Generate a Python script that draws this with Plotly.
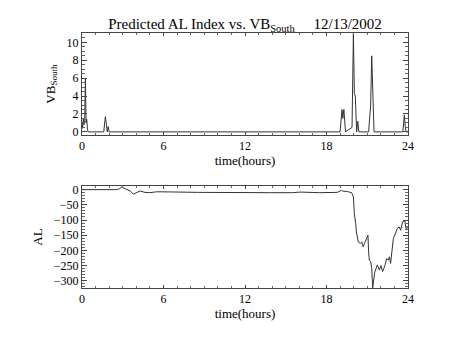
import plotly.graph_objects as go

# VB_South (top panel)
vb_time = [0.0, 0.05, 0.1, 0.15, 0.2, 0.25, 0.3, 0.35, 0.4, 0.45,
           1.6, 1.72, 1.8, 1.86, 1.93, 2.0,
           19.0, 19.14, 19.2, 19.28, 19.4,
           19.88, 19.98, 20.05, 20.12, 20.18,
           20.22, 20.3, 20.38,
           21.1, 21.25, 21.33, 21.4, 21.5,
           23.62, 23.73, 23.8, 23.87, 24.0]
vb_south = [1.0, 0.4, 1.5, 0.8, 1.3, 5.9, 1.0, 1.4, 0.3, 0.0,
            0.0, 1.7, 0.8, 0.0, 0.6, 0.0,
            0.0, 2.5, 1.5, 2.5, 0.0,
            0.5, 11.0, 4.3, 4.0, 0.0,
            0.0, 1.2, 0.0,
            0.0, 3.0, 8.5, 4.0, 0.0,
            0.0, 1.9, 0.5, 0.0, 0.0]

# AL index (bottom panel)
al_time = [0.0, 2.55, 2.75, 2.92, 3.18, 3.55, 3.78, 4.0, 4.27, 4.64, 5.0, 5.5, 6.0,
           7.2, 8.5, 10.2, 12.0, 13.8, 15.5, 16.05, 17.5, 18.8, 19.1, 19.2, 19.5,
           19.85, 19.98, 20.05, 20.15, 20.2, 20.34, 20.5, 20.6, 20.7, 20.8, 20.96,
           21.05, 21.1, 21.15, 21.25, 21.33, 21.4, 21.5, 21.55, 21.74, 21.9, 22.0,
           22.13, 22.3, 22.43, 22.55, 22.63, 22.72, 22.82, 22.92, 23.07, 23.21,
           23.36, 23.46, 23.6, 23.77, 23.85, 24.0]
al_index = [0, 0, 3, 8, 3, -4, -15, -10, -4.5, -9, -10, -7, -8,
            -8, -9, -10, -10, -10, -10, -8, -10, -9, -2, -5, -6,
            -10, -24, -79, -112, -139, -172, -177, -172, -188, -177, -161,
            -150, -205, -232, -237, -259, -324, -287, -272, -248, -265, -250,
            -270, -250, -227, -232, -221, -243, -210, -161, -145, -128,
            -123, -134, -106, -103, -128, -125]

x_ticks = [0, 6, 12, 18, 24]
vb_ticks = [0, 2, 4, 6, 8, 10]
al_ticks = [0, -50, -100, -150, -200, -250, -300]

FONT = "Liberation Serif"
LINE = "#333333"
W, H = 445, 332

fig = go.Figure()
fig.add_trace(go.Scatter(x=vb_time, y=vb_south, mode="lines",
                         line=dict(color=LINE, width=1), xaxis="x", yaxis="y",
                         showlegend=False))
fig.add_trace(go.Scatter(x=al_time, y=al_index, mode="lines",
                         line=dict(color=LINE, width=1), xaxis="x2", yaxis="y2",
                         showlegend=False))

def xax(anchor):
    return dict(range=[0, 24], tickvals=x_ticks, ticks="inside", ticklen=3,
                mirror="allticks", showline=True, linecolor="#444", linewidth=1,
                tickcolor="#444", showgrid=False, zeroline=False, anchor=anchor,
                domain=[0, 1], automargin=False,
                minor=dict(dtick=1, ticks="inside", ticklen=2, tickcolor="#666"),
                title=dict(text="time(hours)", standoff=0,
                           font=dict(family=FONT, size=13, color="black")),
                tickfont=dict(family=FONT, size=12, color="black"))

def yax(domain, rng, ticks, dminor, title, anchor):
    return dict(domain=domain, range=rng, tickvals=ticks,
                ticks="inside", ticklen=5, mirror="allticks", showline=True,
                linecolor="#444", linewidth=1, tickcolor="#444", showgrid=False,
                zeroline=False, anchor=anchor, automargin=False,
                minor=dict(dtick=dminor, ticks="inside", ticklen=3, tickcolor="#666"),
                title=dict(text=title, standoff=8,
                           font=dict(family=FONT, size=13, color="black")),
                tickfont=dict(family=FONT, size=12, color="black"))

fig.update_layout(
    width=W, height=H,
    margin=dict(l=74, r=45, t=25, b=52, autoexpand=False),
    paper_bgcolor="white", plot_bgcolor="white",
    title=dict(text="Predicted AL Index vs. VB<sub>South</sub>\u00a0\u00a0\u00a0\u00a0\u00a012/13/2002",
               x=237 / W, xanchor="center", y=1 - 16 / H, yanchor="middle",
               automargin=False,
               font=dict(family=FONT, size=15, color="black")),
    xaxis=xax("y"),
    xaxis2=xax("y2"),
    yaxis=yax([0.6, 1.0], [-0.35, 11.05], vb_ticks, 0.5, "VB<sub>South</sub>", "x"),
    yaxis2=yax([0.0, 0.4], [-324, 12], al_ticks, 10, "AL", "x2"),
)

fig.write_html("out.html")
